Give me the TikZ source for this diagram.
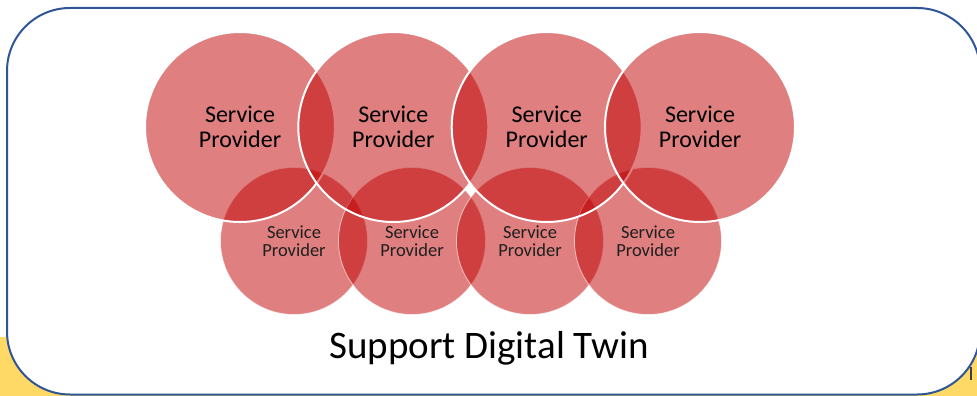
\documentclass[tikz,border=0pt]{standalone}
\usepackage{fontspec}
\setmainfont{Carlito}
\definecolor{frameblue}{HTML}{2F5597}
\definecolor{spred}{HTML}{C00000}
\definecolor{bgyellow}{HTML}{FFD966}
\definecolor{glyphdark}{HTML}{404040}
\begin{document}
\begin{tikzpicture}[x=1pt,y=-1pt,
  bigsp/.style={circle, minimum size=190pt, inner sep=0pt, fill=spred, fill opacity=0.5,
    text opacity=1, draw=white, draw opacity=1, line width=2pt,
    font=\fontsize{24}{25}\selectfont, align=center, text=black},
  smallsp/.style={circle, minimum size=147pt, inner sep=0pt, fill=spred, fill opacity=0.5,
    text opacity=1, draw=white, draw opacity=0.6, line width=0.8pt,
    font=\fontsize{18.5}{18.5}\selectfont, align=center, text=black!88},
  framebox/.style={draw=frameblue, line width=2pt, fill=white, rounded corners=63pt}]
\useasboundingbox (0,0) rectangle (977,396);
\fill[bgyellow] (0,337) rectangle (977,396);
\fill[glyphdark] (969.5,367) rectangle (972.2,380);
\draw[framebox] (7,8) rectangle (980,394.5);
% small circles (beneath)
\node[smallsp] (s1) at (294,241) {Service\\Provider};
\node[smallsp] (s2) at (412,241) {Service\\Provider};
\node[smallsp] (s3) at (530,241) {Service\\Provider};
\node[smallsp] (s4) at (648,241) {Service\\Provider};
% large circles (on top)
\node[bigsp] (b1) at (240,127) {Service\\Provider};
\node[bigsp] (b2) at (393.3,127) {Service\\Provider};
\node[bigsp] (b3) at (546.7,127) {Service\\Provider};
\node[bigsp] (b4) at (700,127) {Service\\Provider};
\node[font=\fontsize{39}{41}\selectfont, anchor=base, inner sep=0pt] (title) at (489,358) {Support Digital Twin};
\end{tikzpicture}
\end{document}
